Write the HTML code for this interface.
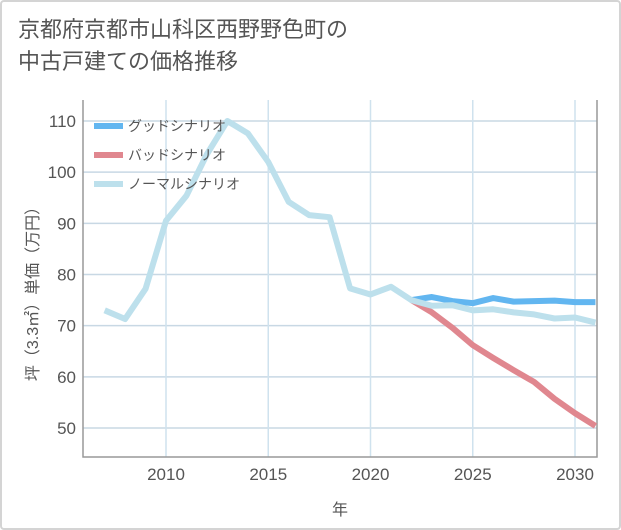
<!DOCTYPE html>
<html><head><meta charset="utf-8"><style>
body{margin:0;background:#fff;}
#wrap{position:relative;width:621px;height:530px;background:#fff;font-family:"Liberation Sans","Noto Sans CJK JP",sans-serif;box-sizing:border-box;border:2px solid #d4d4d4;border-radius:4px;overflow:hidden;}
#title{position:absolute;left:16px;top:12px;font-size:22px;line-height:32px;color:#555;}
#chart{position:absolute;left:-2px;top:-2px;}
</style></head><body>
<div id="wrap">
<div id="title">京都府京都市山科区西野野色町の<br>中古戸建ての価格推移</div>
<svg id="chart" width="621" height="530"></svg>
</div>
<script>
const years=[2007,2008,2009,2010,2011,2012,2013,2014,2015,2016,2017,2018,2019,2020,2021,2022,2023,2024,2025,2026,2027,2028,2029,2030,2031];
const normalVals=[73,71.3,77.2,90.5,95.4,103.5,110,107.6,102,94.2,91.6,91.2,77.3,76.1,77.6,75,73.9,74,73,73.2,72.6,72.2,71.4,71.6,70.6];
const goodYears=[2022,2023,2024,2025,2026,2027,2028,2029,2030,2031];
const goodVals=[75,75.6,74.8,74.4,75.4,74.7,74.8,74.9,74.6,74.6];
const badYears=[2022,2023,2024,2025,2026,2027,2028,2029,2030,2031];
const badVals=[75,72.6,69.6,66.2,63.7,61.3,59,55.7,52.9,50.4];
const xTicks=[2010,2015,2020,2025,2030];
const yTicks=[50,60,70,80,90,100,110];
const L=83,R=597,T=100,B=457;
const xs=y=>166+(y-2010)*(575-166)/20;
const ys=v=>428-(v-50)*(428-121)/60;
const svg=document.getElementById('chart');
const NS='http://www.w3.org/2000/svg';
function mk(t,a){const e=document.createElementNS(NS,t);for(const k in a)e.setAttribute(k,a[k]);svg.appendChild(e);return e;}
yTicks.forEach(v=>{
 const l=mk('line',{x1:L,x2:R,y1:ys(v),y2:ys(v),stroke:'#c8d8e4','stroke-width':1.5});
 
 
 const t=mk('text',{x:76,y:ys(v)+6,'text-anchor':'end','font-size':17,fill:'#555'});
 t.textContent=v;
 
 
});
xTicks.forEach(v=>{
 const l=mk('line',{x1:xs(v),x2:xs(v),y1:T,y2:B,stroke:'#cfe2ee','stroke-width':1.5});
 
 
 const t=mk('text',{x:xs(v),y:480,'text-anchor':'middle','font-size':17,fill:'#555'});
 t.textContent=v;
 
 
});
const ax=mk('polyline',{points:`${L},${T} ${L},${B} ${R},${B} ${R},${T}`,fill:'none',stroke:'#999','stroke-width':1.5});


function line(xv,yv,c,name){
 const p=mk('polyline',{points:xv.map((x,i)=>xs(x)+','+ys(yv[i])).join(' '),fill:'none',stroke:c,'stroke-width':6,'stroke-linejoin':'round'});
 
 
}
line(badYears,badVals,'#e0878f','bad-scenario-line');
line(goodYears,goodVals,'#62b6f0','good-scenario-line');
line(years,normalVals,'#bde0ec','normal-scenario-line');
const leg=[['グッドシナリオ','#62b6f0'],['バッドシナリオ','#e0878f'],['ノーマルシナリオ','#bde0ec']];
leg.forEach((d,i)=>{
 const y=126+i*29;
 const l=mk('line',{x1:94,x2:123,y1:y,y2:y,stroke:d[1],'stroke-width':6});
 
 
 const t=mk('text',{x:128,y:y+5,'font-size':14,fill:'#555'});
 t.textContent=d[0];
 
 
});
const yt=mk('text',{x:0,y:0,'font-size':16,fill:'#555','text-anchor':'middle',transform:'translate(38,290) rotate(-90)'});
yt.textContent='坪（3.3㎡）単価（万円）';


const xt=mk('text',{x:340,y:515,'font-size':16,fill:'#555','text-anchor':'middle'});
xt.textContent='年';


</script>
</body></html>
